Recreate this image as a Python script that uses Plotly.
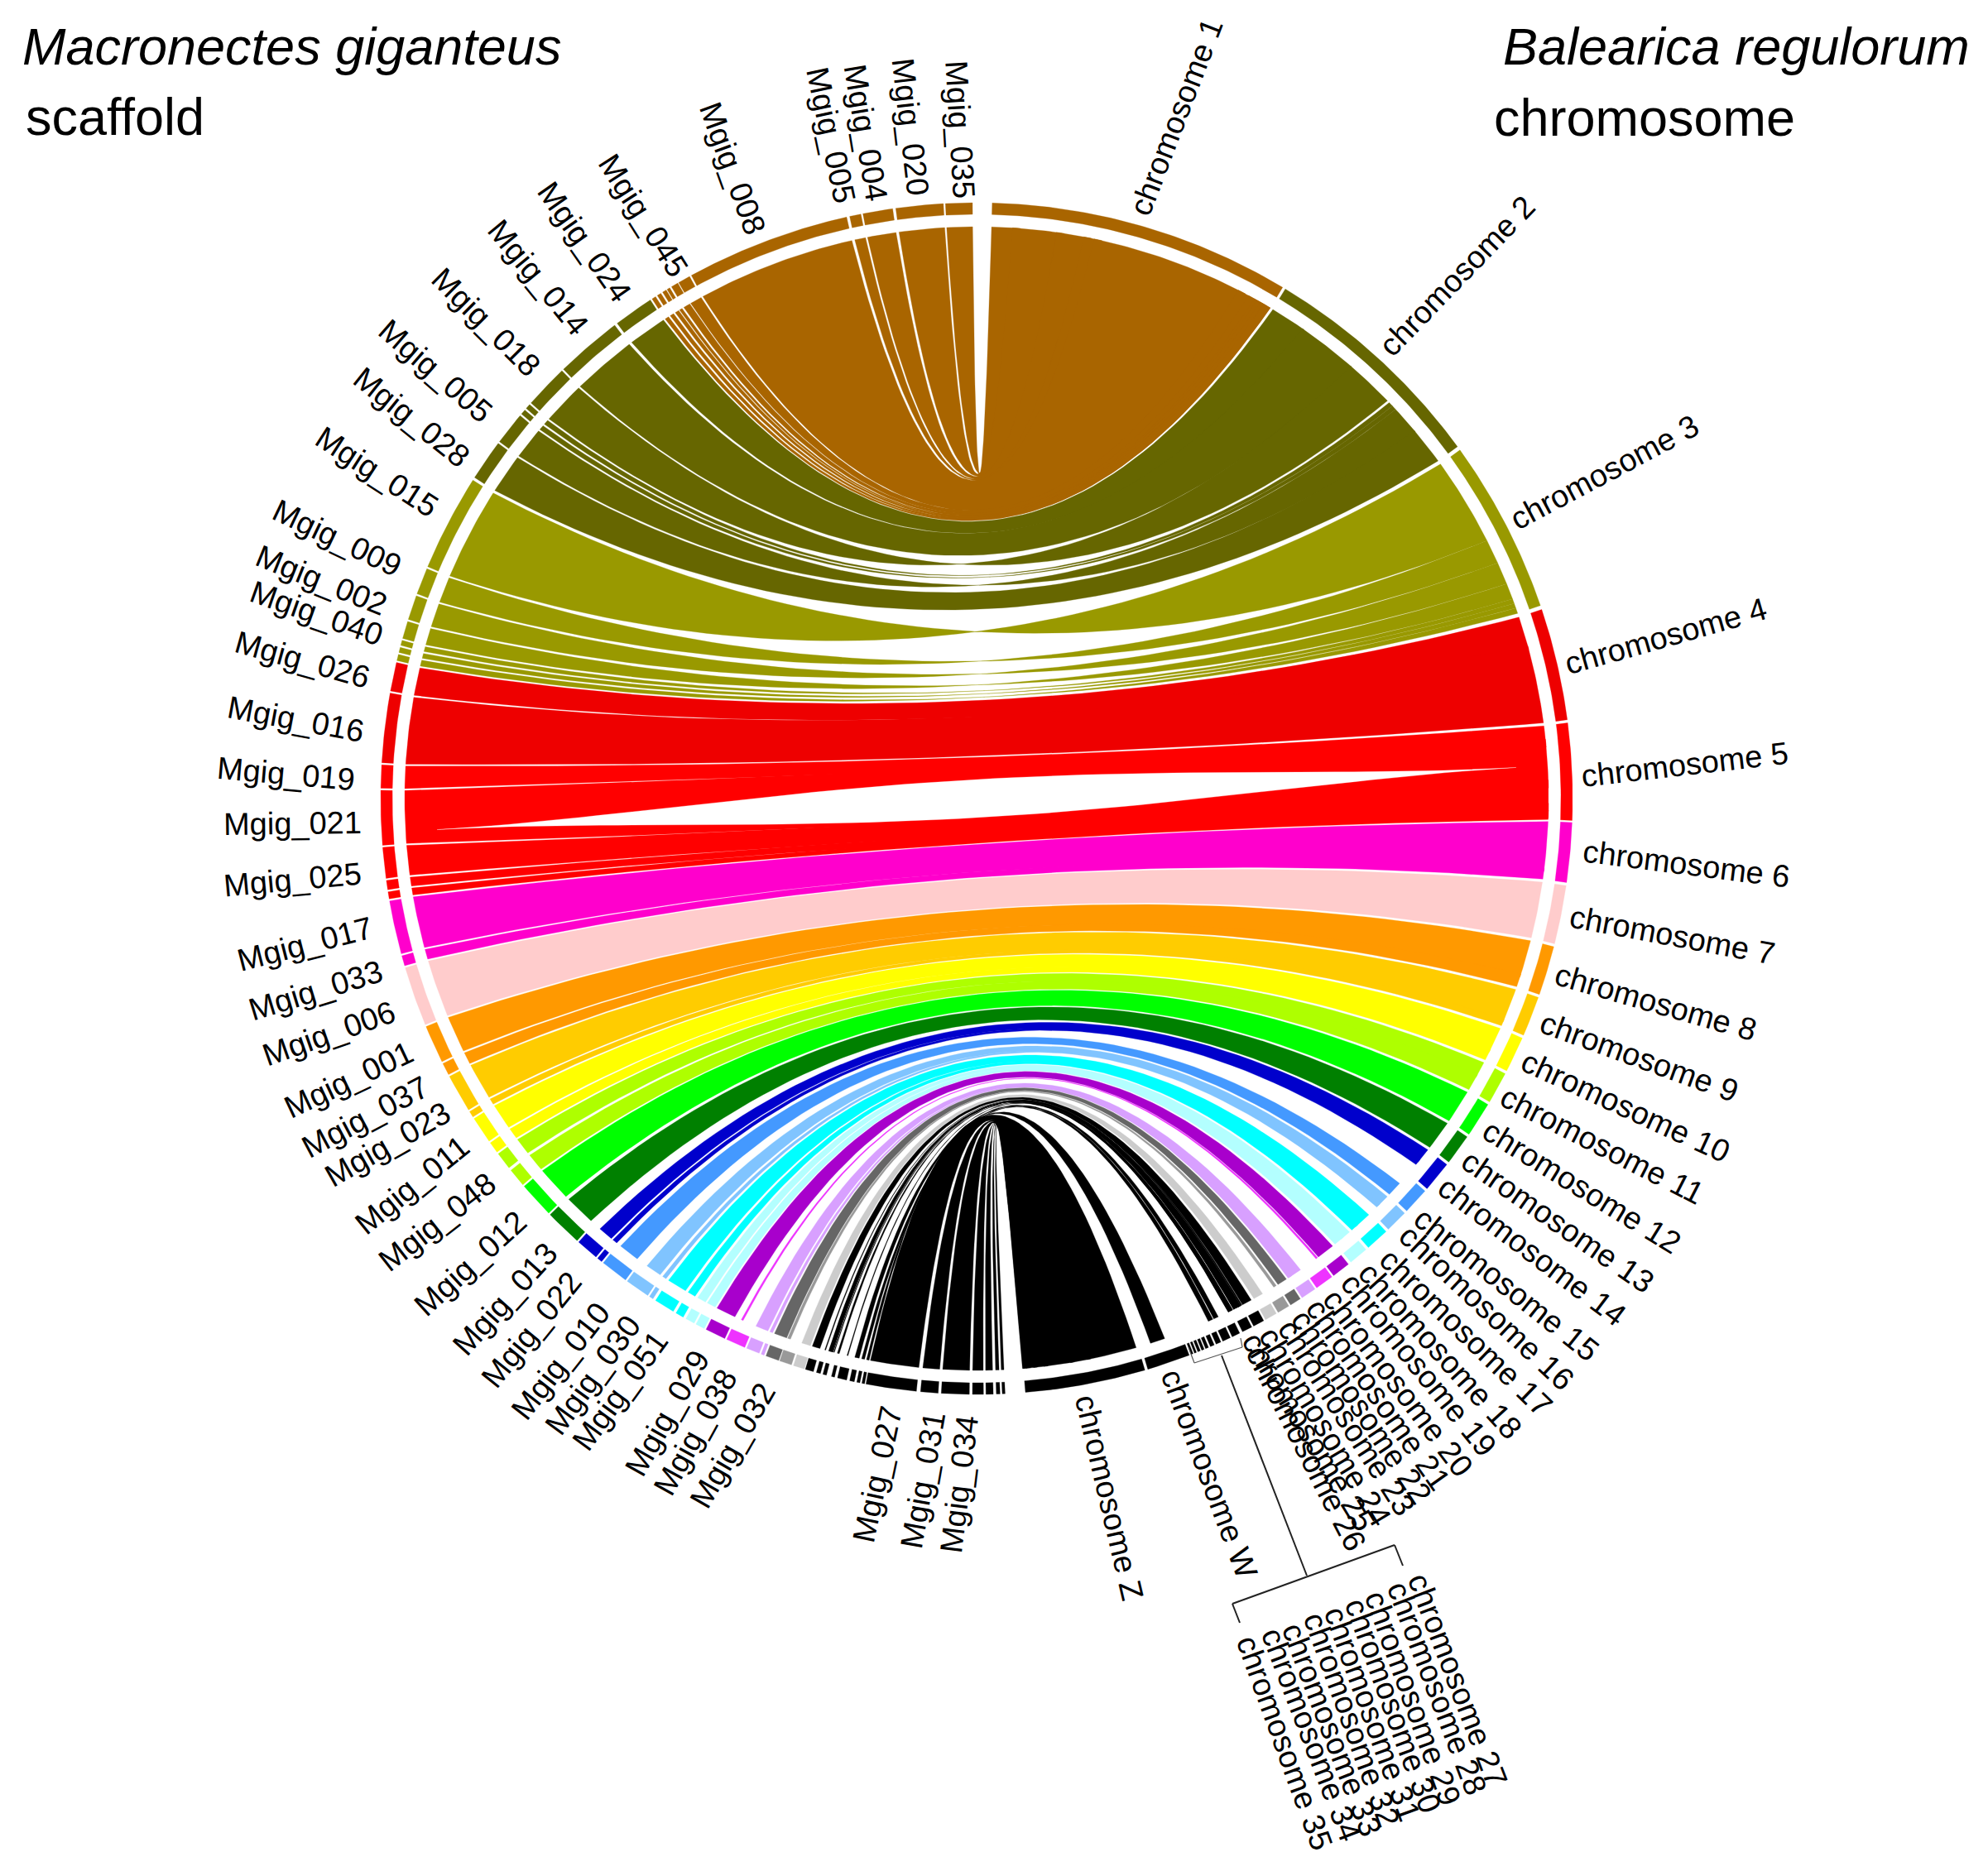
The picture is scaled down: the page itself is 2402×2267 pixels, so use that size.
import math
import plotly.graph_objects as go

# ---- chromosomes (right half), angles clockwise from 12 o'clock, degrees
CHROM_NAMES = ["1","2","3","4","5","6","7","8","9","10","11","12","13","14","15","16","17","18",
               "19","20","21","22","23","24","25","26","27","28","29","30","31","32","33","34","35","W","Z"]
CHROM_START = [1.5,31.2,54.2,71.5,82.7,92.3,98.4,104.4,109.5,113.7,117.5,120.9,124.6,127.9,131.2,134.1,136.6,139.2,
               141.4,143.4,145.4,147.1,148.4,149.8,151.2,152.5,153.8,154.8,155.8,156.5,157.1,157.55,157.95,158.35,158.7,159.1,163.6]
CHROM_END   = [30.9,53.8,71.1,82.4,92.1,98.1,104.1,109.2,113.4,117.2,120.6,124.3,127.6,130.9,133.8,136.3,138.9,141.1,
               143.2,145.2,146.9,148.2,149.6,151.0,152.3,153.5,154.6,155.6,156.3,156.9,157.4,157.8,158.2,158.55,158.9,163.3,175.3]
CHROM_COLOR = ["#a96500","#666600","#999900","#ee0000","#ff0000","#ff00cc","#ffcccc","#ff9900","#ffcc00","#ffff00",
               "#aeff00","#00ff00","#008000","#0000cc","#4499ff","#80c4ff","#00ffff","#b3ffff","#a800cc","#ee33ff",
               "#d8a0ff","#666666","#999999","#cccccc"] + ["#000000"] * 13
# part of a chromosome that actually carries ribbons, where it differs from the whole span
CHROM_RIBBON_ZONE = {"14":(127.9,129.8),"15":(132.3,133.8),"16":(134.1,135.6),"17":(136.7,139.0),"18":(139.3,141.2),
                     "19":(141.5,143.3),"20":(143.4,143.6),"21":(145.5,147.0),"22":(147.2,148.2),
                     "23":(148.4,148.7),"24":(150.0,151.0),"25":(151.3,152.3),
                     "26":(152.5,153.3),"27":(153.4,153.9),"28":(155.0,155.5),"29":(155.6,156.1),
                     "W":(160.8,162.3),"Z":(163.8,175.4)}
# how far neighbouring ribbons overlap at the chromosome side (white lines die out before the ring)
CHROM_OVERLAP = {"1":0.4,"2":0.1,"3":0.1,"4":0.2,"5":0.4,"Z":0.2}

# ---- scaffolds (left half), angle measured clockwise from 6 o'clock, degrees
SCAF_START = [-2.74,-2.25,-1.6,-0.66,0.7,3.7,5.8,10.84,11.3,11.85,12.6,13.8,14.6,15.2,15.9,16.8,18.1,19.4,20.9,21.4,
              22.9,25.0,27.2,28.3,29.5,30.6,32.9,33.5,36.1,39.0,39.7,42.1,45.9,49.6,51.7,53.6,54.9,57.7,58.5,62.4,
              63.8,67.7,73.7,74.9,80.3,81.2,82.3,85.5,91.0,93.45,100.4,103.4,104.2,104.9,105.6,107.5,110.1,112.9,
              122.6,126.8,130.2,130.9,131.6,136.1,142.9,147.0,147.6,148.2,148.7,149.2,150.0,151.4,167.7,169.0,172.2,177.0]
SCAF_END   = [-2.47,-1.9,-0.9,0.4,3.4,5.4,10.7,11.1,11.6,12.3,13.5,14.1,14.95,15.6,16.7,17.9,19.3,20.7,21.2,22.7,
              24.8,27.0,28.1,29.2,30.3,32.6,33.3,35.9,38.8,39.5,41.9,45.7,49.4,51.4,53.4,54.7,57.5,58.3,62.2,63.6,
              67.5,73.5,74.7,80.1,81.0,82.1,85.3,90.8,93.25,100.2,103.2,104.0,104.7,105.4,107.3,109.9,112.7,122.3,
              126.6,130.0,130.7,131.4,135.9,142.6,146.8,147.4,148.0,148.6,149.0,149.9,151.2,167.4,168.8,171.9,176.8,179.6]
SCAF_CHROM = ["Z","Z","Z","Z","Z","Z","Z","W","29","28","27","27","26","26","25","24","23","22","21","21",
              "20","19","18","18","17","17","16","16","15","14","14","13","12","11","11","10","10","9","9","8",
              "8","7","6","6","5","5","5","5","5","4","4","3","3","3","3","3","3","3",
              "2","2","2","2","2","2","2","1","1","1","1","1","1","1","1","1","1","1"]
# ribbon foot on the scaffold where it is narrower than the scaffold block
SCAF_RIBBON = {12.6:(13.0,13.1),13.8:(13.9,14.1),14.6:(14.6,14.95),15.2:(15.3,15.4),18.1:(19.0,19.3),22.9:(24.1,24.3),
               16.8:(16.9,17.8),33.5:(33.6,35.2),36.1:(36.4,38.5),39.7:(39.7,41.2),42.1:(42.4,45.5)}
# ribbons that cross over themselves, pinching to a waist mid-way
TWISTED = [103.4,104.2,104.9,105.6,107.5,110.1,112.9,126.8,130.2,130.9,131.6]
# extra chromosome-side width given to a ribbon, and the white step left after it
SCAF_RIGHT_SHIFT = {131.6:1.3}
SCAF_RIGHT_TRIM = {131.6:0.25}

# fine hatch running into chromosome 26 from Mgig scaffold blocks
HATCH_L0 = [14.4,14.52,14.64,14.76,14.88]
HATCH_L1 = [14.47,14.59,14.71,14.83,15.0]
HATCH_R0 = [152.35,152.62,152.89,153.16,153.43]
HATCH_R1 = [152.5,152.77,153.04,153.31,153.6]

# ---- labels
LABELS = ["chromosome "+c for c in CHROM_NAMES]
LABEL_X = [1421,1760,1938,2012,2035,2037,2020,2000,1980,1964,1936,1911,1882,1851,1820,1796,1771,1740,
           1714,1689,1665,1645,1627,1601,1581,1578,1761,1736,1707,1683,1658,1633,1609,1584,1552,1461,1340]
LABEL_Y = [142,334,571,769,924,1044,1130,1211,1277,1337,1384,1434,1476,1512,1552,1580,1610,1632,
           1649,1671,1685,1700,1713,1724,1730,1750,2030,2040,2052,2061,2071,2078,2090,2096,2106,1781,1809]
LABEL_ROT = [-69,-46,-28,-15.8,-6.5,7.2,10.5,16,20,24.7,27,31.6,34.7,37,38.5,43,44,47.8,
             50.8,52.8,54.9,56.2,57.3,59,58.7,62.9,69,69,70,70,70,70,69,69,70,69.4,76.8]

MG_LABELS = ["035","020","004","005","008","045","024","014","018","005","028","015","009","002","040","026",
             "016","019","021","025","017","033","006","001","037","023","011","048","012","013","022","010",
             "030","051","029","038","032","027","031","034"]
MG_X = [1160,1100,1046,1004,885,777,706,650,587,526,497,455,407,388,382,365,
        357,345,353,353,368,381,397,421,441,468,498,528,568,610,642,677,
        716,749,806,840,885,1060,1115,1159]
MG_Y = [156,153,160,163,203,260,292,335,389,448,504,570,650,701,741,797,
        869,935,995,1063,1141,1197,1249,1305,1350,1383,1432,1477,1527,1570,1607,1645,
        1662,1681,1708,1731,1747,1782,1789,1794]
MG_ROT = [86.7,83.4,80.6,78,70,57.5,55,50.6,45,41,38.8,32.9,25.5,22,19.4,15.6,
          10.5,5,-0.7,-5.2,-14.3,-17,-19.4,-25.3,-28,-29.7,-39,-38,-42.3,-48,-51,-52,
          -54,-54,-60.5,-61,-60,-78,-80,-83]

# ---- layout constants
W, H = 2402, 2267
CX, CY = 1180, 965
R_OUT, R_IN, R_RIB = 720, 706, 691
FONT = "Liberation Sans"


def pol(r, a):
    t = math.radians(a)
    return CX + r * math.sin(t), CY - r * math.cos(t)


def arc(r, a0, a1):
    n = max(2, int(abs(a1 - a0) * 2) + 2)
    return [pol(r, a0 + (a1 - a0) * i / (n - 1)) for i in range(n)]


def bez(a0, a1):
    p0, p2 = pol(R_RIB, a0), pol(R_RIB, a1)
    d = ((a1 - a0 + 180) % 360) - 180
    half = abs(d) / 2
    c = pol(30 + 65 * math.cos(math.radians(half)), a0 + d / 2)
    out = []
    for i in range(61):
        t = i / 60
        u = 1 - t
        out.append((u*u*p0[0] + 2*u*t*c[0] + t*t*p2[0], u*u*p0[1] + 2*u*t*c[1] + t*t*p2[1]))
    return out


fig = go.Figure()


def poly(pts, color):
    fig.add_trace(go.Scatter(x=[p[0] for p in pts] + [pts[0][0]], y=[p[1] for p in pts] + [pts[0][1]],
                             mode="lines", fill="toself", fillcolor=color,
                             line=dict(color=color, width=0.3),
                             hoverinfo="skip", showlegend=False))


def ribbon(l0, l1, r0, r1, color, twist=False):
    """l0>l1 on the scaffold side (clockwise angles), r0<r1 on the chromosome side"""
    if twist:
        r0, r1 = r1, r0
    poly(bez(l0, r0) + arc(R_RIB, r0, r1) + bez(r1, l1) + arc(R_RIB, l1, l0), color)


color_of = dict(zip(CHROM_NAMES, CHROM_COLOR))

# ribbons, chromosome by chromosome
for k, name in enumerate(CHROM_NAMES):
    idx = [i for i, c in enumerate(SCAF_CHROM) if c == name]
    if not idx:
        continue
    idx.sort(key=lambda i: -SCAF_START[i])
    za, zb = CHROM_RIBBON_ZONE.get(name, (CHROM_START[k], CHROM_END[k]))
    feet = [SCAF_RIBBON.get(SCAF_START[i], (SCAF_START[i], SCAF_END[i])) for i in idx]
    extra = sum(SCAF_RIGHT_SHIFT.get(SCAF_START[i], 0.0) for i in idx)
    tot = sum(b - a for a, b in feet)
    ov = CHROM_OVERLAP.get(name, 0.15)
    pos = za
    for i, (a, b) in zip(idx, feet):
        s = SCAF_START[i]
        w = (b - a) / tot * (zb - za - extra) + SCAF_RIGHT_SHIFT.get(s, 0.0)
        twisted = s in TWISTED
        o = 0.0 if twisted else ov
        ribbon(180 + b, 180 + a, max(za, pos - o), min(zb, pos + w + o) - SCAF_RIGHT_TRIM.get(s, 0.0),
               color_of[name], twisted)
        pos += w
    if name == "5":
        # empty lens in the middle of the chromosome 5 bundle
        tip_r, tip_a, half_w = 653, 86.7, 23
        p0, p1 = pol(tip_r, tip_a + 180), pol(tip_r, tip_a)
        length = 2 * tip_r
        nx, ny = -(p1[1] - p0[1]) / length, (p1[0] - p0[0]) / length
        top, bot = [], []
        for j in range(61):
            t = j / 60
            off = half_w * (4 * t * (1 - t)) ** 2
            px, py = p0[0] + (p1[0] - p0[0]) * t, p0[1] + (p1[1] - p0[1]) * t
            top.append((px - nx * off, py - ny * off))
            bot.append((px + nx * off, py + ny * off))
        poly(top + bot[::-1], "#ffffff")

for a, b, c, d in zip(HATCH_L0, HATCH_L1, HATCH_R0, HATCH_R1):
    ribbon(180 + b, 180 + a, c, d, "#000000")

# outer ring
for a, b, c in zip(CHROM_START, CHROM_END, CHROM_COLOR):
    poly(arc(R_OUT, a, b) + arc(R_IN, b, a), c)
for a, b, n in zip(SCAF_START, SCAF_END, SCAF_CHROM):
    poly(arc(R_OUT, 180 + a, 180 + b) + arc(R_IN, 180 + b, 180 + a), color_of[n])

ann = []
for t, x, y, r in zip(LABELS, LABEL_X, LABEL_Y, LABEL_ROT):
    ann.append(dict(x=x, y=y, text=t, textangle=r, xanchor="center", yanchor="middle", showarrow=False,
                    font=dict(family=FONT, size=38, color="#000000")))
for t, x, y, r in zip(MG_LABELS, MG_X, MG_Y, MG_ROT):
    ann.append(dict(x=x, y=y, text="Mgig_" + t, textangle=r, xanchor="center", yanchor="middle", showarrow=False,
                    font=dict(family=FONT, size=38, color="#000000")))

TITLES = [("<i>Macronectes giganteus</i>", 25, 56), ("scaffold", 29, 141),
          ("<i>Balearica regulorum</i>", 1814, 56), ("chromosome", 1803, 142)]
for t, x, y in TITLES:
    ann.append(dict(x=x, y=y, text=t, xanchor="left", yanchor="middle", showarrow=False,
                    font=dict(family=FONT, size=63, color="#000000")))

shapes = []
BOX = [(1436, 1628), (1443, 1647), (1501, 1628), (1499, 1617)]
for (x0, y0), (x1, y1) in zip(BOX[:-1], BOX[1:]):
    shapes.append(dict(type="line", x0=x0, y0=y0, x1=x1, y1=y1, line=dict(color="#555555", width=1.2)))
BRACKET = [(1498, 1961), (1489, 1938), (1685, 1867), (1695, 1892)]
for (x0, y0), (x1, y1) in zip(BRACKET[:-1], BRACKET[1:]):
    shapes.append(dict(type="line", x0=x0, y0=y0, x1=x1, y1=y1, line=dict(color="#222222", width=2)))
shapes.append(dict(type="line", x0=1476, y0=1638, x1=1579, y1=1904, line=dict(color="#222222", width=2)))

fig.update_layout(width=W, height=H, margin=dict(l=0, r=0, t=0, b=0), paper_bgcolor="#ffffff", plot_bgcolor="#ffffff",
                  xaxis=dict(range=[0, W], visible=False, fixedrange=True),
                  yaxis=dict(range=[H, 0], visible=False, fixedrange=True),
                  annotations=ann, shapes=shapes, showlegend=False)
fig.write_html("out.html", config={"displayModeBar": False},
               post_script="document.body.style.margin='0';document.body.style.overflow='hidden';")
